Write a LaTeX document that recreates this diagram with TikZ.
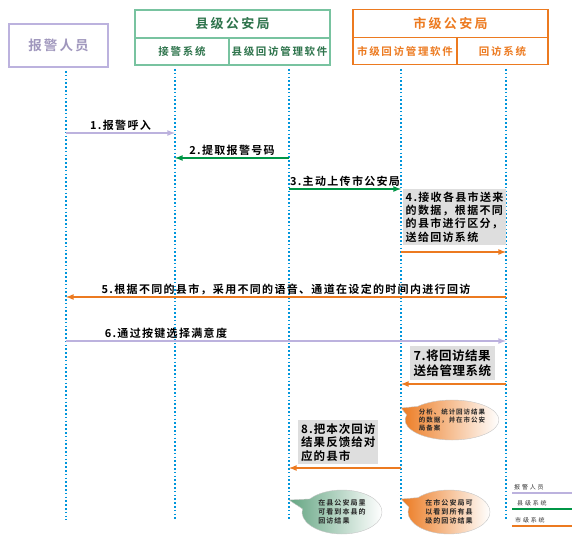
\documentclass[tikz,border=0pt]{standalone}
\usepackage{fontspec}
\setmainfont{Noto Sans CJK SC}[BoldFont={Noto Sans CJK SC Bold}]
\usepackage{tikz}
\usetikzlibrary{shapes.callouts, arrows.meta, positioning, calc}

\definecolor{lav}{RGB}{188,178,222}
\definecolor{xgreen}{RGB}{0,150,70}
\definecolor{xborder}{RGB}{120,195,160}
\definecolor{xtext}{RGB}{45,115,75}
\definecolor{sorange}{RGB}{236,122,32}
\definecolor{lifeblue}{RGB}{0,150,220}
\definecolor{boxgray}{RGB}{222,222,222}
\definecolor{bubgreen}{RGB}{100,165,130}

\begin{document}
\begin{tikzpicture}[x=1pt, y=-1pt, font=\bfseries, >=latex,
    hdrG/.style={draw=xborder, line width=1.3pt, outer sep=0pt, inner sep=0pt, text=xtext},
    hdrS/.style={draw=sorange, line width=1.3pt, outer sep=0pt, inner sep=0pt, text=sorange},
    ttl/.style={minimum width=195pt, minimum height=28pt, font=\fontsize{13}{15}\bfseries\addfontfeatures{LetterSpace=18}},
    cell/.style={minimum height=27pt, font=\fontsize{10.5}{12}\bfseries\addfontfeatures{LetterSpace=16}},
    life/.style={lifeblue, line width=1.6pt, dash pattern=on 1.6pt off 2.2pt},
    msgP/.style={->, lav, line width=1.6pt},
    msgX/.style={->, xgreen, line width=1.6pt},
    msgS/.style={->, sorange, line width=1.6pt},
    lbl/.style={text=black, inner sep=1.5pt, font=\fontsize{11}{13}\bfseries\addfontfeatures{LetterSpace=12}},
    note/.style={fill=boxgray, align=left, inner sep=2.5pt, anchor=north west},
    bub/.style={ellipse callout, draw=gray!45, line width=0.4pt, right color=white, align=left,
        inner sep=0pt, callout pointer arc=28, text=black!85,
        font=\fontsize{6.5}{8.3}\bfseries\addfontfeatures{LetterSpace=15}},
    lgd/.style={anchor=west, inner sep=0pt, text=black!80, font=\fontsize{6}{7}\selectfont\addfontfeatures{LetterSpace=30}}]
    \useasboundingbox (0,0) rectangle (585,540);

    \node[draw=lav, line width=1.3pt, minimum width=99pt, minimum height=43pt, text=lav!85!black,
        font=\fontsize{13.5}{15}\bfseries\addfontfeatures{LetterSpace=15}] (bj) at (58.5,45.5) {报警人员};

    \node[hdrG, ttl] (xj) at (232.5,24) {县级公安局};
    \node[hdrG, cell, minimum width=94pt, below right=0pt and 0pt of xj.south west] (jj) {接警系统};
    \node[hdrG, cell, minimum width=101pt, right=0pt of jj] (xh) {县级回访管理软件};

    \node[hdrS, ttl] (sj) at (450.5,23.5) {市级公安局};
    \node[hdrS, cell, minimum width=104pt, below right=0pt and 0pt of sj.south west] (sh) {市级回访管理软件};
    \node[hdrS, cell, minimum width=91pt, right=0pt of sh] (hf) {回访系统};

    \coordinate (L1) at (66,71);
    \coordinate (L2) at (175,69);
    \coordinate (L3) at (289,69);
    \coordinate (L4) at (401,69);
    \coordinate (L5) at (506,69);
    \foreach \l in {L1,L2,L3,L4,L5}
        \draw[life] (\l) -- (\l |- 0,520);

    \draw[msgP] (L1 |- 0,133) -- node[lbl, above]{1.报警呼入} (L2 |- 0,133);
    \draw[msgX] (L3 |- 0,158) -- node[lbl, above]{2.提取报警号码} (L2 |- 0,158);
    \draw[msgX] (L3 |- 0,189) -- node[lbl, above]{3.主动上传市公安局} (L4 |- 0,189);

    \node[note, font=\fontsize{11}{13.3}\bfseries\addfontfeatures{LetterSpace=12}] (n4) at (403,189)
        {4.接收各县市送来\\的数据，根据不同\\的县市进行区分，\\送给回访系统};
    \draw[msgS] (L4 |- 0,252) -- (L5 |- 0,252);

    \draw[msgS] (L5 |- 0,297) -- node[lbl, above]{5.根据不同的县市，采用不同的语音、通道在设定的时间内进行回访} (L1 |- 0,297);
    \draw[msgP] (L1 |- 0,341) -- node[lbl, above, pos=0.227]{6.通过按键选择满意度} (L5 |- 0,341);

    \node[note, inner sep=3.5pt, font=\fontsize{12.5}{15}\bfseries\addfontfeatures{LetterSpace=4}] (n7) at (410,346)
        {7.将回访结果\\送给管理系统};
    \draw[msgS] (L5 |- 0,384) -- (L4 |- 0,384);

    \node[bub, left color=sorange, minimum width=80pt, minimum height=40pt,
        callout absolute pointer={(L4 |- 0,408)}] (b7) at (452,420)
        {分析、统计回访结果\\的数据，并在市公安\\局备案};

    \node[note, inner sep=3pt, font=\fontsize{11.5}{13.5}\bfseries\addfontfeatures{LetterSpace=9}] (n8) at (298,420)
        {8.把本次回访\\结果反馈给对\\应的县市};
    \draw[msgS] (L4 |- 0,468) -- (L3 |- 0,468);

    \node[bub, left color=bubgreen, minimum width=80pt, minimum height=44pt,
        font=\fontsize{7}{9}\bfseries\addfontfeatures{LetterSpace=15},
        callout absolute pointer={(L3 |- 0,500)}] (b8x) at (342,512)
        {在县公安局里\\可看到本县的\\回访结果};
    \node[bub, left color=sorange, minimum width=82pt, minimum height=44pt,
        font=\fontsize{7}{9}\bfseries\addfontfeatures{LetterSpace=15},
        callout absolute pointer={(L4 |- 0,499)}] (b8s) at (449,512)
        {在市公安局可\\以看到所有县\\级的回访结果};

    \node[lgd] (lg1) at (514,487) {报警人员};
    \node[lgd] (lg2) at (517,503) {县级系统};
    \node[lgd] (lg3) at (515,520) {市级系统};
    \draw[lav, line width=1.4pt] (512,493) -- (572,493);
    \draw[xgreen, line width=1.4pt] (512,509) -- (572,509);
    \draw[sorange, line width=1.4pt] (512,526) -- (572,526);
\end{tikzpicture}
\end{document}
